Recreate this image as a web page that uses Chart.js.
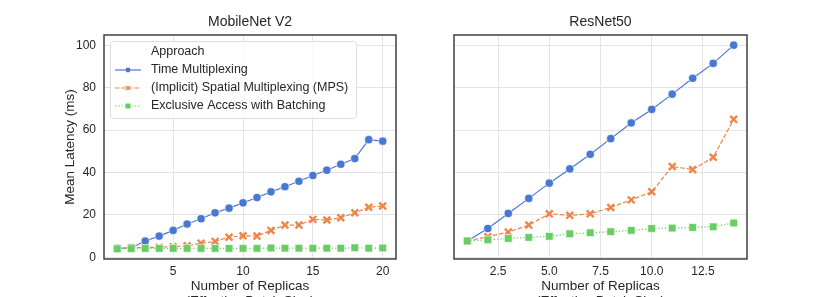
<!DOCTYPE html>
<html><head><meta charset="utf-8">
<script src="https://cdn.jsdelivr.net/npm/chart.js@4.4.0/dist/chart.umd.min.js"></script>
<style>
html,body{margin:0;padding:0;background:#fff;overflow:hidden;width:830px;height:297px;}
#c1{position:absolute;left:0;top:0;}
#c2{position:absolute;left:415px;top:0;}
</style></head><body>
<canvas id="c1" width="415" height="320"></canvas>
<canvas id="c2" width="415" height="320"></canvas>
<script>
// ---- data ----
const mobileReplicas = [1,2,3,4,5,6,7,8,9,10,11,12,13,14,15,16,17,18,19,20];
const mobileTime  = [4.2,4.5,7.7,10.0,12.7,15.7,18.2,21.0,23.2,25.7,28.2,30.9,33.3,35.9,38.6,41.1,43.9,46.6,55.5,54.8];
const mobileMPS   = [4.2,4.5,4.6,4.8,5.0,5.4,6.6,7.5,9.5,10.2,10.0,12.7,15.2,15.2,17.9,17.6,18.7,21.0,23.6,24.2];
const mobileBatch = [4.0,4.1,4.2,4.2,4.2,4.2,4.2,4.2,4.2,4.2,4.2,4.4,4.3,4.3,4.3,4.3,4.3,4.5,4.3,4.4];

const resnetReplicas = [1,2,3,4,5,6,7,8,9,10,11,12,13,14];
const resnetTime  = [7.7,13.6,20.7,27.8,35.0,41.7,48.6,56.0,63.4,69.8,77.0,84.5,91.5,100.1];
const resnetMPS   = [7.7,9.7,11.9,15.2,20.5,19.8,20.5,23.5,27.1,30.9,42.8,41.4,47.2,65.1];
const resnetBatch = [7.7,8.2,8.9,9.4,9.9,11.1,11.6,12.1,12.7,13.6,13.8,14.1,14.4,16.2];

const yTicks = [0,20,40,60,80,100];
const mobileXTicks = [5,10,15,20];
const resnetXTicks = [2.5,5,7.5,10,12.5];
const seriesNames = ['Time Multiplexing','(Implicit) Spatial Multiplexing (MPS)','Exclusive Access with Batching'];
const legendTitle = 'Approach';
const panelTitles = ['MobileNet V2','ResNet50'];
const xTitle = ['Number of Replicas','(Effective Batch Size)'];
const yTitle = 'Mean Latency (ms)';

// ---- style ----
const FONT = "'Liberation Sans', Arial, sans-serif";
const TEXT = '#262626';
const BLUE = '#4878d0', ORANGE = '#ee854a', GREEN = '#6acc64';
const GRID = '#e3e3e3';

function pairs(xs, ys){ return xs.map((x,i)=>({x:x, y:ys[i]})); }

function datasets(xs, t, m, b){
  return [
    {label: seriesNames[0], data: pairs(xs,t), borderColor: BLUE, backgroundColor: BLUE,
     borderWidth: 1.2, pointStyle:'circle', pointRadius: 4.1, pointBackgroundColor: BLUE,
     pointBorderColor:'#ffffff', pointBorderWidth:0.6, order:3},
    {label: seriesNames[1], data: pairs(xs,m), borderColor: ORANGE, backgroundColor: ORANGE,
     borderWidth: 1.2, borderDash:[4.5,2], pointStyle:'crossRot', pointRadius: 4.8,
     pointBorderColor: ORANGE, pointBorderWidth: 2.4, order:2},
    {label: seriesNames[2], data: pairs(xs,b), borderColor: GREEN, backgroundColor: GREEN,
     borderWidth: 1.2, borderDash:[1.3,2], pointStyle:'rect', pointRadius: 5.4,
     pointBackgroundColor: GREEN, pointBorderColor:'#ffffff', pointBorderWidth:0.6, order:1}
  ];
}

const framePlugin = {
  id: 'frame',
  afterDatasetsDraw(chart){
    const a = chart.chartArea, ctx = chart.ctx;
    ctx.save();
    ctx.strokeStyle = '#333333';
    ctx.lineWidth = 1.4;
    ctx.strokeRect(a.left, a.top, a.right - a.left, a.bottom - a.top);
    ctx.restore();
  }
};

const legendPlugin = {
  id: 'boxLegend',
  afterDraw(chart){
    const ctx = chart.ctx;
    ctx.save();
    const x0 = 110.5, y0 = 41.5, w = 246, h = 77, r = 3;
    ctx.beginPath();
    ctx.moveTo(x0 + r, y0);
    ctx.arcTo(x0 + w, y0, x0 + w, y0 + h, r);
    ctx.arcTo(x0 + w, y0 + h, x0, y0 + h, r);
    ctx.arcTo(x0, y0 + h, x0, y0, r);
    ctx.arcTo(x0, y0, x0 + w, y0, r);
    ctx.closePath();
    ctx.fillStyle = 'rgba(255,255,255,0.85)';
    ctx.fill();
    ctx.strokeStyle = '#dcdcdc';
    ctx.lineWidth = 1;
    ctx.stroke();

    ctx.font = '12.5px ' + FONT;
    ctx.fillStyle = TEXT;
    ctx.textBaseline = 'middle';
    ctx.textAlign = 'left';
    const tx = 151, rows = [52, 70, 88, 106];
    ctx.fillText(legendTitle, tx, rows[0]);
    const cols = [BLUE, ORANGE, GREEN];
    const dashes = [[], [4.5,2], [1.3,2]];
    for (let i = 0; i < 3; i++){
      const y = rows[i+1];
      ctx.beginPath();
      ctx.setLineDash(dashes[i]);
      ctx.strokeStyle = cols[i];
      ctx.lineWidth = 1.2;
      ctx.moveTo(115, y); ctx.lineTo(141, y);
      ctx.stroke();
      ctx.setLineDash([]);
      ctx.fillStyle = cols[i];
      ctx.beginPath();
      if (i === 0) { ctx.arc(128, y, 2.4, 0, Math.PI*2); ctx.fill(); }
      else if (i === 1) {
        ctx.strokeStyle = cols[i]; ctx.lineWidth = 1.6;
        ctx.moveTo(126, y-2); ctx.lineTo(130, y+2);
        ctx.moveTo(130, y-2); ctx.lineTo(126, y+2);
        ctx.stroke();
      }
      else { ctx.fillRect(125.5, y-2.5, 5, 5); }
      ctx.fillStyle = TEXT;
      ctx.fillText(seriesNames[i], tx, y);
    }
    ctx.restore();
  }
};

function makeChart(id, cfg){
  return new Chart(document.getElementById(id), {
    type: 'line',
    data: { datasets: cfg.datasets },
    options: {
      responsive: false,
      animation: false,
      layout: { padding: { left: 0, right: cfg.rightPad, top: 0, bottom: 0 } },
      plugins: {
        legend: { display: false },
        tooltip: { enabled: false },
        title: {
          display: true, text: cfg.title, fullSize: false, color: TEXT,
          font: { family: FONT, size: 14, weight: 'normal', lineHeight: 1.2 },
          padding: { top: 13.6, bottom: 4.6 }
        }
      },
      scales: {
        x: {
          type: 'linear', min: cfg.xMin, max: cfg.xMax,
          afterBuildTicks(s){ s.ticks = cfg.xTicks.map(v => ({value: v})); },
          afterFit(s){ s.height = 61; },
          grid: { color: GRID, lineWidth: 1, drawTicks: false },
          border: { display: false },
          ticks: { color: TEXT, font: { family: FONT, size: 12 }, padding: 5, maxRotation: 0,
                   autoSkip: false, callback: cfg.xFmt },
          title: { display: true, text: xTitle, color: TEXT,
                   font: { family: FONT, size: 13.5, lineHeight: 1.1 },
                   padding: { top: 0, bottom: 11.7 } }
        },
        y: {
          type: 'linear', min: -0.8, max: 104.9,
          afterBuildTicks(s){ s.ticks = yTicks.map(v => ({value: v})); },
          afterFit(s){ s.width = cfg.yWidth; },
          grid: { color: GRID, lineWidth: 1, drawTicks: false },
          border: { display: false },
          ticks: { display: cfg.showY, color: TEXT, font: { family: FONT, size: 12 }, padding: 8 },
          title: { display: cfg.showY, text: yTitle, color: TEXT,
                   font: { family: FONT, size: 13.5, lineHeight: 1.2 },
                   padding: { top: 61.9, bottom: 0 } }
        }
      }
    },
    plugins: cfg.plugins
  });
}

makeChart('c1', {
  datasets: datasets(mobileReplicas, mobileTime, mobileMPS, mobileBatch),
  title: panelTitles[0], xMin: 0.05, xMax: 20.95, xTicks: mobileXTicks,
  xFmt: v => String(v), yWidth: 104, rightPad: 19, showY: true,
  plugins: [framePlugin, legendPlugin]
});
makeChart('c2', {
  datasets: datasets(resnetReplicas, resnetTime, resnetMPS, resnetBatch),
  title: panelTitles[1], xMin: 0.35, xMax: 14.65, xTicks: resnetXTicks,
  xFmt: v => Number(v).toFixed(1), yWidth: 39, rightPad: 83, showY: false,
  plugins: [framePlugin]
});
</script>
</body></html>
